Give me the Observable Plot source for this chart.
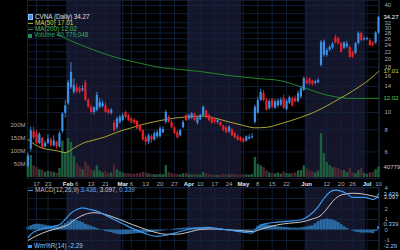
<!DOCTYPE html>
<html><head><meta charset="utf-8">
<script src="https://cdn.jsdelivr.net/npm/d3@7"></script>
<script src="https://cdn.jsdelivr.net/npm/@observablehq/plot@0.6"></script>
<style>
html,body{margin:0;padding:0;background:#000;}
#chart{position:relative;width:400px;height:250px;background:#000;overflow:hidden;font-family:"Liberation Sans",Arial,sans-serif;}
#chart svg{position:absolute;left:0;top:0;}
.leg{position:absolute;font-size:6.3px;line-height:6px;white-space:nowrap;font-family:"Liberation Sans",Arial,sans-serif;}
.leg .ic{display:inline-block;vertical-align:middle;margin-right:2px;}
</style></head><body><div id="chart"></div>
<script>
// ---------------- data ----------------
const startIndex = -3; // trading-day index of first candle (0 = Jan 17)
const opens  = [5.0,6.2,7.8,7.6,6.7,7.2,6.4,6.7,7.0,6.5,6.8,6.4,7.8,9.9,11.2,13.8,13.0,13.8,13.6,13.3,14.7,11.7,10.7,10.0,10.3,10.7,10.8,10.9,10.3,9.9,8.7,8.2,8.8,9.0,10.0,9.6,9.2,9.0,8.9,8.4,7.9,7.2,6.8,7.3,7.0,7.3,7.3,7.7,8.8,9.4,8.8,8.2,7.7,7.4,8.2,9.6,9.2,9.3,9.8,8.7,9.1,9.6,10.2,9.6,9.3,9.1,8.8,8.8,8.4,8.2,7.8,8.0,7.6,7.3,7.2,7.1,6.9,7.1,7.2,8.8,9.9,11.7,12.8,11.7,10.5,11.8,10.6,10.9,11.0,12.0,10.4,11.3,11.9,12.0,11.5,12.2,13.3,15.1,15.4,15.0,14.6,14.7,18.4,21.0,21.0,22.4,23.0,26.4,26.0,24.4,23.0,23.4,23.2,21.8,21.5,24.4,27.8,25.6,25.7,25.3,24.6,24.6,28.0];
const highs  = [5.9,8.3,8.3,7.9,7.7,7.0,6.9,7.5,7.2,7.4,6.9,7.8,10.0,11.7,15.1,19.1,15.5,14.5,14.0,14.2,15.2,12.0,11.0,10.8,13.0,12.0,11.6,11.3,10.5,10.5,9.0,9.4,9.6,9.9,10.2,9.8,9.4,9.2,9.0,8.6,8.0,7.4,7.6,7.5,7.8,7.9,8.3,8.3,10.3,9.6,9.0,8.3,7.9,8.0,9.0,9.8,9.8,10.0,9.9,9.4,9.8,10.9,10.3,9.8,9.4,9.3,9.2,8.9,8.5,8.3,8.4,8.1,7.7,7.5,7.3,7.2,7.4,7.5,7.6,11.0,12.2,13.5,13.3,12.0,11.8,12.0,11.8,11.9,12.1,12.6,11.8,12.4,12.2,12.4,13.2,14.0,15.8,15.8,15.6,15.2,15.2,15.5,25.4,25.6,23.0,23.8,24.8,27.3,26.6,24.8,25.0,25.2,23.8,22.2,24.8,28.4,28.3,26.6,26.5,25.8,25.0,28.5,34.8];
const lows   = [4.9,6.0,7.0,6.6,6.6,6.2,6.3,6.6,6.4,6.4,6.2,6.3,7.6,9.3,11.0,13.5,12.6,12.8,12.7,13.0,11.5,10.5,9.8,9.7,10.1,10.5,10.6,9.9,9.7,9.7,7.8,8.0,8.6,8.9,9.2,8.9,8.6,8.5,8.0,7.7,6.9,6.5,6.6,6.7,6.9,7.1,7.2,7.6,8.6,8.7,8.1,7.5,7.1,7.3,8.1,8.9,9.0,9.1,8.9,8.5,9.0,9.5,9.2,8.9,8.6,8.6,8.6,8.3,7.8,7.6,7.6,7.3,7.1,6.9,6.8,6.7,6.8,7.0,7.1,8.6,9.8,11.5,11.5,10.2,10.3,10.5,10.4,10.6,10.8,10.4,10.2,11.1,10.7,11.3,11.3,12.0,13.1,14.3,14.2,14.1,14.3,14.5,18.0,20.5,20.5,22.0,22.6,24.3,24.0,21.6,22.6,23.0,20.2,20.1,21.2,24.0,25.0,25.2,25.3,23.5,23.3,24.2,27.5];
const closes = [5.7,7.9,7.2,6.7,7.5,6.3,6.7,7.1,6.5,6.9,6.4,7.6,9.8,10.9,14.7,16.8,14.2,13.0,13.0,13.6,11.7,10.7,10.0,10.6,12.5,11.4,11.2,10.0,9.9,10.3,7.9,9.2,9.4,9.6,9.4,9.0,8.8,8.7,8.1,7.9,7.0,6.8,7.4,7.0,7.6,7.7,8.1,8.0,10.0,8.8,8.2,7.6,7.2,7.9,8.8,9.0,9.6,9.8,9.0,9.3,9.6,10.7,9.3,9.0,8.7,8.8,9.0,8.4,7.9,7.7,8.3,7.4,7.2,7.0,6.95,6.8,7.3,7.25,7.3,10.7,11.7,13.0,11.7,10.3,11.5,10.7,11.5,11.6,11.7,10.6,11.6,12.1,10.9,11.5,12.8,13.6,15.5,14.5,14.5,14.4,14.9,15.1,24.8,24.9,22.3,23.2,24.3,24.6,24.4,21.8,24.6,24.3,20.4,20.5,24.4,27.8,25.4,26.0,26.0,23.8,23.8,28.0,34.27];
const volumes = [55,85,45,38,30,28,20,24,22,20,16,35,140,95,150,135,80,55,40,30,60,45,30,25,45,25,18,22,15,18,48,30,22,18,15,14,12,12,14,15,20,18,14,12,11,10,12,11,46,20,15,13,12,10,14,15,11,10,12,10,9,19,14,11,10,9,8,9,12,11,10,12,11,10,9,11,10,9,12,77,50,45,38,25,18,15,14,17,13,22,15,14,15,18,25,27,45,35,27,22,18,25,169,92,58,46,38,38,35,27,27,19,35,19,15,27,35,15,12,18,20,30,40.779048]; // millions
const lastVolume = 40779048;

const ma50Idx = [-3,2,7,10,13,16,20,24,28,33,38,43,48,53,58,62,67,72,76,80,85,92,97,101,106,110,113,116,119];
const ma50Val = [7.05,6.3,6.1,5.95,6.3,6.7,7.0,7.3,7.75,8.2,8.65,9.0,9.3,9.45,9.55,9.3,8.85,8.45,8.2,8.25,8.65,9.4,10.1,10.9,12.1,13.2,14.2,15.4,17.01];
const ma200Idx = [7.3,11.8,17.7,22.3,29.2,36.2,43.1,50.1,57.1,67.5,77.9,84.9,92.9,101.3,110.3,119];
const ma200Val = [27.5,25.4,23.2,21.75,20.1,18.9,17.9,17.45,17.0,16.1,15.5,15.1,13.8,12.5,12.0,12.02];

const macdIdx = [-3,-1,2,6,8,10,12,14,16,18,21,24,27,30,33,36,39,42,45,48,52,56,60,64,68,72,75,77,79,84,88,92,95,98,100,102,104,106,108,110,112,114,116,117,118,119];
const macdVal = [-0.75,-0.2,0.1,0.35,0.5,1.0,1.6,1.95,2.1,2.0,1.8,1.4,1.0,0.6,0.2,-0.15,-0.45,-0.6,-0.5,-0.3,0.0,0.2,0.25,0.1,-0.05,-0.2,-0.3,0.2,0.55,0.75,0.85,0.95,1.4,2.2,3.0,3.6,3.8,3.7,3.45,3.1,3.1,3.1,3.0,2.9,3.0,3.436];
const signalIdx = [-3,0,4,8,11,14,17,20,23,26,29,33,37,41,45,49,53,57,61,65,70,75,79,84,88,92,96,99,101,103,105,107,110,113,116,119];
const signalVal = [-1.0,-0.55,-0.1,0.2,0.5,1.1,1.5,1.65,1.55,1.3,1.0,0.55,0.15,-0.2,-0.4,-0.4,-0.2,0.05,0.1,0.05,-0.05,-0.15,0.15,0.5,0.65,0.75,1.05,1.4,2.0,2.7,3.2,3.4,3.5,3.45,3.3,3.097];
const histVal = [0.3,0.4,0.5,0.55,0.55,0.5,0.45,0.4,0.35,0.35,0.3,0.3,
  0.45,0.6,0.8,0.95,1.0,0.9,0.8,0.7,0.55,0.45,0.35,0.25,
  0.15,0.05,-0.05,-0.15,-0.2,-0.25,
  -0.35,-0.4,-0.45,-0.45,-0.45,-0.42,-0.4,-0.38,-0.35,-0.32,-0.3,-0.28,-0.25,-0.22,
  -0.2,-0.18,-0.12,-0.08,-0.05,0.0,0.05,0.1,0.12,0.15,0.17,0.18,
  0.2,0.2,0.2,0.18,0.16,0.14,0.12,0.1,0.06,0.03,0.0,-0.02,
  -0.05,-0.07,-0.08,-0.1,-0.12,-0.14,-0.15,-0.16,-0.17,-0.15,-0.12,
  0.1,0.35,0.5,0.55,0.5,0.45,0.4,0.35,0.3,0.28,0.25,0.22,0.2,0.18,0.18,0.18,0.2,0.25,
  0.3,0.35,0.4,0.6,0.8,0.95,1.0,1.05,1.0,0.95,0.85,0.7,0.5,0.3,0.15,
  0.0,-0.1,-0.2,-0.25,-0.3,-0.3,-0.28,-0.3,-0.35,-0.15,0.339];
const wmrValue = -2.29;

const dayTickIdx = [0,4,14,19,24,33,38,43,48,57,62,67,77,82,87,101,106,110,119];
const dayTickLabel = ["17","23","6","13","21","6","13","20","27","10","17","24","8","15","22","12","20","26","10"];
const monthTickIdx = [11,30,53,72,94,115];
const monthTickLabel = ["Feb","Mar","Apr","May","Jun","Jul"];
const shadeFirst = [11,53,94];   // first trading day of Feb, Apr, Jun
const shadeLast  = [29,71,114];  // last trading day of Feb, Apr, Jun
const priceGridTicks = [40,36,32,30,28,26,24,22,20,18,16,14,12,10,8,6];
const priceLabelTicks = [40,32,30,28,26,24,22,20,18,16,14,10,8,6];
const volTicks = [50,100,150,200];
const macdGridTicks = [-1,0,1,2,3,4];
const macdLabelTicks = [-1,0,1,2,4];

// ---------------- styles ----------------
const C = {
  shade:"#151529", grid:"#132540", label:"#a8a8a8", month:"#e6e6e6",
  up:"#3b8fe6", down:"#e3222b", volUp:"#1f5e3c", volDn:"#4d2631",
  ma50:"#aaa530", ma200:"#22882a", macd:"#3d97ec", signal:"#c9c9c9", hist:"#2a6aa3"
};
const FONT = "'Liberation Sans', Arial, sans-serif";
const svgStyle = {background:"transparent", fontFamily:FONT, fontSize:"6px", overflow:"hidden"};

// ---------------- derived tables ----------------
const rows = opens.map((o,k)=>({i:startIndex+k, o, h:highs[k], l:lows[k], c:closes[k], v:volumes[k], hist:histVal[k]}));
const candleColor = d => d.c >= d.o ? C.up : C.down;
const volColor = d => d.c >= d.o ? C.volUp : C.volDn;
const ma50 = ma50Idx.map((i,k)=>({i, v:ma50Val[k]}));
const ma200 = ma200Idx.map((i,k)=>({i, v:ma200Val[k]}));
const macd = macdIdx.map((i,k)=>({i, v:macdVal[k]}));
const signal = signalIdx.map((i,k)=>({i, v:signalVal[k]}));
const shades = shadeFirst.map((f,k)=>({x1:f-0.5, x2:shadeLast[k]+0.5}));
const dayTicks = dayTickIdx.map((i,k)=>({i, label:dayTickLabel[k]}));
const monthTicks = monthTickIdx.map((i,k)=>({i, label:monthTickLabel[k]}));
const gridIdx = dayTickIdx.concat(monthTickIdx);
const last = closes.length-1;
const xDomain = [-3.13, 119.35];
const common = {width:400, height:250, marginLeft:27, marginRight:21, style:svgStyle};

function boxText(data, opts, label) {
  return Plot.text(data, {frameAnchor:"right", dx:4, textAnchor:"start", fontSize:6, ariaLabel:label, ...opts});
}

// ---------------- layer A: price-panel background & grid ----------------
const layerA = Plot.plot({...common, marginTop:0, marginBottom:72,
  x:{domain:xDomain, axis:null},
  y:{type:"log", domain:[10,40], range:[112,5], axis:null},
  marks:[
    Plot.rect(shades, {x1:"x1", x2:"x2", fill:C.shade}),
    Plot.ruleX(gridIdx, {x:d=>d, stroke:C.grid, strokeWidth:0.8}),
    Plot.ruleY(priceGridTicks, {y:d=>d, stroke:C.grid, strokeWidth:0.8}),
    Plot.text(priceLabelTicks, {y:d=>d, text:d=>String(d), frameAnchor:"right", dx:5, textAnchor:"start", fill:C.label, fontSize:6}),
    Plot.frame({stroke:C.grid, strokeWidth:0.8})
  ]});

// ---------------- layer B: volume ----------------
const layerB = Plot.plot({...common, marginTop:0, marginBottom:72,
  x:{domain:xDomain, axis:null},
  y:{domain:[0,200], range:[177,125], axis:null},
  color:{type:"identity"},
  marks:[
    Plot.ruleX(rows, {x:"i", y1:0, y2:"v", stroke:volColor, strokeWidth:2.4}),
    Plot.text(volTicks, {y:d=>d, text:d=>d+"M", frameAnchor:"left", dx:-2, textAnchor:"end", fill:C.label, fontSize:6}),
    Plot.text(dayTicks, {x:"i", text:"label", frameAnchor:"bottom", dy:7, fill:C.label, fontSize:6}),
    Plot.text(monthTicks, {x:"i", text:"label", frameAnchor:"bottom", dy:7, fill:C.month, fontSize:6, fontWeight:"bold"}),
    boxText([{v:volumes[last], t:String(lastVolume).slice(0,5)}], {y:"v", text:"t", fill:"#c8c8c8"}, "box-vol")
  ]});

// ---------------- layer C: candles & moving averages ----------------
const layerC = Plot.plot({...common, marginTop:0, marginBottom:72,
  x:{domain:xDomain, axis:null},
  y:{type:"log", domain:[10,40], range:[112,5], axis:null},
  color:{type:"identity"},
  marks:[
    Plot.line(ma200, {x:"i", y:"v", stroke:C.ma200, strokeWidth:1, curve:"monotone-x"}),
    Plot.line(ma50, {x:"i", y:"v", stroke:C.ma50, strokeWidth:1, curve:"monotone-x"}),
    Plot.ruleX(rows, {x:"i", y1:"l", y2:"h", stroke:candleColor, strokeWidth:0.9}),
    Plot.ruleX(rows, {x:"i", y1:"o", y2:"c", stroke:candleColor, strokeWidth:2.2}),
    boxText([{v:closes[last], t:closes[last].toFixed(2)}], {y:"v", text:"t", fill:"#ffffff"}, "box-close"),
    boxText([{v:ma50Val[ma50Val.length-1], t:ma50Val[ma50Val.length-1].toFixed(2)}], {y:"v", text:"t", fill:"#d8d440"}, "box-ma50"),
    boxText([{v:ma200Val[ma200Val.length-1], t:ma200Val[ma200Val.length-1].toFixed(2)}], {y:"v", text:"t", fill:"#5ccc5c"}, "box-ma200")
  ]});

// ---------------- layer D: MACD ----------------
const layerD = Plot.plot({...common, marginTop:187, marginBottom:0,
  x:{domain:xDomain, axis:null},
  y:{domain:[-1,4], range:[240,187.5], axis:null},
  marks:[
    Plot.rect(shades, {x1:"x1", x2:"x2", fill:C.shade}),
    Plot.ruleX(gridIdx, {x:d=>d, stroke:C.grid, strokeWidth:0.8}),
    Plot.ruleY(macdGridTicks, {y:d=>d, stroke:C.grid, strokeWidth:0.8}),
    Plot.ruleX(rows, {x:"i", y1:0, y2:"hist", stroke:C.hist, strokeWidth:2.9}),
    Plot.line(signal, {x:"i", y:"v", stroke:C.signal, strokeWidth:1, curve:"monotone-x"}),
    Plot.line(macd, {x:"i", y:"v", stroke:C.macd, strokeWidth:1.2, curve:"monotone-x"}),
    Plot.text(macdLabelTicks, {y:d=>d, text:d=>String(d), frameAnchor:"right", dx:5, textAnchor:"start", fill:C.label, fontSize:6}),
    boxText([{v:signalVal[signalVal.length-1], t:signalVal[signalVal.length-1].toFixed(3)}], {y:"v", text:"t", fill:"#d0d0d0"}, "box-signal"),
    boxText([{v:macdVal[macdVal.length-1], t:macdVal[macdVal.length-1].toFixed(3)}], {y:"v", text:"t", fill:"#8cc4ff"}, "box-macd"),
    boxText([{v:histVal[histVal.length-1], t:histVal[histVal.length-1].toFixed(3)}], {y:"v", text:"t", fill:"#8cc4ff", dy:-2}, "box-hist"),
    Plot.text([wmrValue], {text:d=>d.toFixed(2), frameAnchor:"bottom-right", dx:4, dy:-3, textAnchor:"start", fill:"#8cc4ff", fontSize:6, ariaLabel:"box-wmr"}),
    Plot.frame({stroke:C.grid, strokeWidth:0.8})
  ]});

const chart = document.getElementById("chart");
[layerA, layerB, layerC, layerD].forEach(s => chart.appendChild(s));

// value boxes behind right-edge labels
const NS = "http://www.w3.org/2000/svg";
function boxify(svg, label, stroke, fill) {
  svg.querySelectorAll(`g[aria-label="${label}"] text`).forEach(t => {
    const b = t.getBBox();
    const r = document.createElementNS(NS, "rect");
    r.setAttribute("x", b.x - 1.5); r.setAttribute("y", b.y - 0.3);
    r.setAttribute("width", 40); r.setAttribute("height", b.height + 0.6);
    r.setAttribute("rx", 1.2);
    r.setAttribute("fill", fill); r.setAttribute("stroke", stroke); r.setAttribute("stroke-width", 0.8);
    const tr = t.getAttribute("transform"); if (tr) r.setAttribute("transform", tr);
    t.parentNode.insertBefore(r, t);
  });
}
boxify(layerB, "box-vol", "#7a8a9a", "#141c28");
boxify(layerC, "box-ma200", "#2a9a2a", "#0c1a0c");
boxify(layerC, "box-ma50", "#a8a430", "#1a1a08");
boxify(layerC, "box-close", "#4a78a8", "#0e1a2c");
boxify(layerD, "box-hist", "#3a7ab8", "#0e1a2c");
boxify(layerD, "box-signal", "#9a9a9a", "#1a1a1a");
boxify(layerD, "box-macd", "#3a7ab8", "#0e1a2c");
boxify(layerD, "box-wmr", "#3a7ab8", "#0e1a2c");

// legends
function leg(left, top, html) {
  const d = document.createElement("div");
  d.className = "leg"; d.style.left = left + "px"; d.style.top = top + "px";
  d.innerHTML = html; chart.appendChild(d);
}
const fmtInt = d3.format(",d");
leg(28, 14,
  `<div><span class="ic" style="width:3px;height:4px;background:${C.up};border:0.5px solid #8cc4ff"></span><span style="color:#e0e0e0">CVNA (Daily) ${closes[last].toFixed(2)}</span></div>` +
  `<div><span class="ic" style="width:5px;height:1.5px;background:${C.ma50}"></span><span style="color:#d8d440">MA(50) ${ma50Val[ma50Val.length-1].toFixed(2)}</span></div>` +
  `<div><span class="ic" style="width:5px;height:1.5px;background:${C.ma200}"></span><span style="color:#4ab84a">MA(200) ${ma200Val[ma200Val.length-1].toFixed(2)}</span></div>` +
  `<div><span class="ic" style="width:4px;height:4px;background:#2a8a5a"></span><span style="color:#3aaa6a">Volume ${fmtInt(lastVolume)}</span></div>`);
leg(28, 187,
  `<span class="ic" style="width:5px;height:1.5px;background:${C.macd}"></span><span style="color:#b8b8b8">MACD(12,26,9)</span> ` +
  `<span style="color:#5aa8f0">${macdVal[macdVal.length-1].toFixed(3)},</span> <span style="color:#d0d0d0">${signalVal[signalVal.length-1].toFixed(3)},</span> <span style="color:#5aa8f0">${histVal[histVal.length-1].toFixed(3)}</span>`);
leg(28, 243,
  `<span class="ic" style="width:4px;height:3px;background:${C.macd}"></span><span style="color:#8cc4ff">Wm%R(14) ${wmrValue.toFixed(2)}</span>`);
</script></body></html>
